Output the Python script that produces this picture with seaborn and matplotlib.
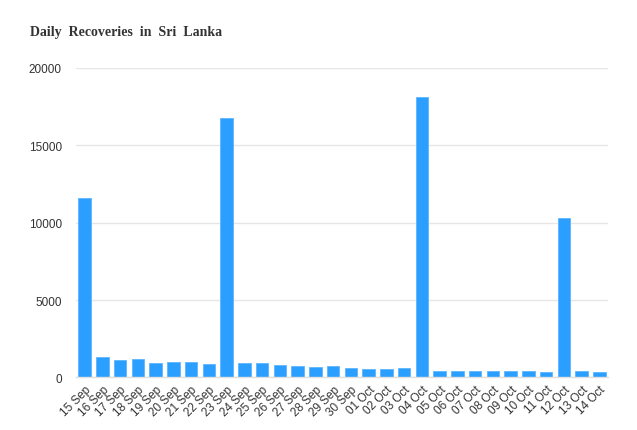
import matplotlib
matplotlib.use("Agg")
import matplotlib.pyplot as plt
import seaborn as sns
import pandas as pd
import numpy as np

dates = ["15 Sep", "16 Sep", "17 Sep", "18 Sep", "19 Sep", "20 Sep", "21 Sep", "22 Sep",
         "23 Sep", "24 Sep", "25 Sep", "26 Sep", "27 Sep", "28 Sep", "29 Sep", "30 Sep",
         "01 Oct", "02 Oct", "03 Oct", "04 Oct", "05 Oct", "06 Oct", "07 Oct", "08 Oct",
         "09 Oct", "10 Oct", "11 Oct", "12 Oct", "13 Oct", "14 Oct"]
recoveries = [11590, 1310, 1150, 1210, 950, 1010, 1000, 840,
              16740, 900, 950, 820, 770, 690, 730, 580,
              560, 520, 600, 18100, 430, 430, 390, 390,
              410, 420, 340, 10300, 390, 320]
y_ticks = [0, 5000, 10000, 15000, 20000]

df = pd.DataFrame({"date": dates, "recoveries": recoveries})

sns.set_theme(style="white")
plt.rcParams["font.family"] = ["Liberation Sans", "DejaVu Sans"]

fig = plt.figure(figsize=(6.37, 4.31), dpi=100)
ax = fig.add_axes([0.119, 0.122, 0.836, 0.718])

sns.barplot(data=df, x="date", y="recoveries", color="#2a9fff", saturation=1,
            width=0.7, ax=ax, edgecolor="#5cb6ff", linewidth=0.6)

ax.set_ylim(0, 20000)
ax.set_xlim(-0.5, len(dates) - 0.5)
ax.set_yticks(y_ticks)
ax.set_yticklabels([str(v) for v in y_ticks], fontsize=8.5, color="#333333")
ax.yaxis.grid(True, color="#e6e6e6", linewidth=1)
ax.set_axisbelow(True)
ax.tick_params(axis="y", length=0, pad=10)

ax.set_xticks(range(len(dates)))
ax.set_xticklabels(dates, rotation=45, ha="right", rotation_mode="anchor",
                   fontsize=8.5, color="#333333")
ax.tick_params(axis="x", which="major", length=0, pad=4)
ax.set_xticks(np.arange(-0.5, len(dates), 1), minor=True)
ax.tick_params(axis="x", which="minor", length=6, width=1, color="#e0e0e0", direction="out")

for s in ["top", "right", "left"]:
    ax.spines[s].set_visible(False)
ax.spines["bottom"].set_color("#e0e0e0")
ax.spines["bottom"].set_linewidth(1)
ax.set_xlabel("")
ax.set_ylabel("")

fig.text(0.047, 0.925, "Daily  Recoveries  in  Sri  Lanka", fontsize=10, fontweight="bold",
         family=["Liberation Serif", "DejaVu Serif"], color="#333333", va="center", ha="left")

fig.savefig("out.png", dpi=100, facecolor="white")
